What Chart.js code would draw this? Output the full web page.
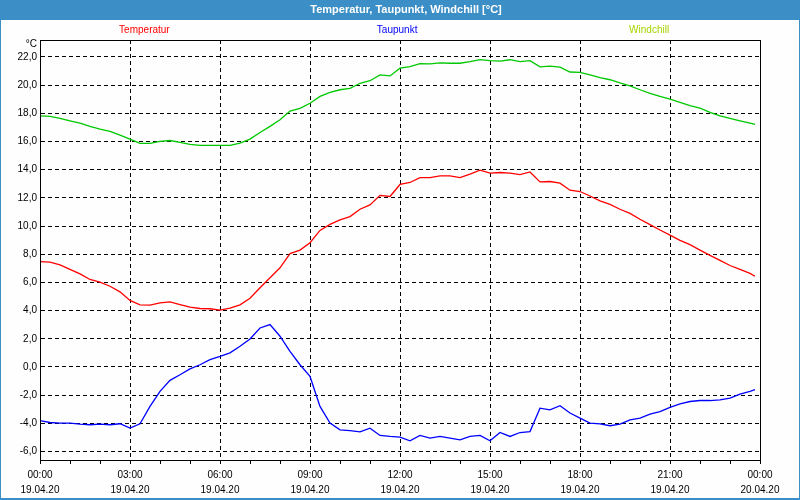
<!DOCTYPE html>
<html>
<head>
<meta charset="utf-8">
<title>Temperatur, Taupunkt, Windchill</title>
<script src="https://cdn.jsdelivr.net/npm/chart.js@4/dist/chart.umd.min.js"></script>
<style>
  html, body { margin: 0; padding: 0; background: #fff; }
  #chart { display: block; }
</style>
</head>
<body>
<canvas id="chart" width="800" height="500"></canvas>
<script>
'use strict';

/* ── DATA ── */
// minutes since 19.04.20 00:00
const minutes = [
  0, 20, 40, 60, 80, 100, 120, 140, 160, 180, 200, 220,
  240, 260, 280, 300, 320, 340, 360, 380, 400, 420, 440, 460,
  480, 500, 520, 540, 560, 580, 600, 620, 640, 660, 680, 700,
  720, 740, 760, 780, 800, 820, 840, 860, 880, 900, 920, 940,
  960, 980, 1000, 1020, 1040, 1060, 1080, 1100, 1120, 1140, 1160, 1180,
  1200, 1220, 1240, 1260, 1280, 1300, 1320, 1340, 1360, 1380, 1400, 1420,
  1430
];

const temperatur = [
  7.47, 7.44, 7.25, 6.92, 6.61, 6.21, 6.02, 5.73, 5.33, 4.72, 4.41, 4.39,
  4.55, 4.62, 4.43, 4.24, 4.15, 4.13, 4.03, 4.17, 4.41, 4.88, 5.62, 6.33,
  7.04, 8.04, 8.29, 8.82, 9.69, 10.12, 10.43, 10.67, 11.19, 11.50, 12.18, 12.10,
  12.95, 13.09, 13.44, 13.44, 13.56, 13.56, 13.44, 13.68, 13.96, 13.75, 13.80, 13.75,
  13.65, 13.84, 13.13, 13.16, 13.04, 12.54, 12.45, 12.13, 11.78, 11.54, 11.19, 10.90,
  10.48, 10.10, 9.72, 9.36, 8.98, 8.68, 8.29, 7.92, 7.56, 7.20, 6.92, 6.64,
  6.44
];

const taupunkt = [
  -3.80, -3.94, -3.98, -3.98, -4.05, -4.10, -4.05, -4.10, -4.03, -4.34, -4.03, -2.80,
  -1.73, -0.95, -0.55, -0.14, 0.16, 0.52, 0.75, 1.00, 1.47, 1.99, 2.77, 3.01,
  2.18, 1.11, 0.16, -0.67, -2.80, -3.98, -4.46, -4.51, -4.60, -4.34, -4.86, -4.93,
  -4.98, -5.24, -4.86, -5.05, -4.93, -5.05, -5.17, -4.93, -4.86, -5.24, -4.65, -4.93,
  -4.65, -4.58, -2.92, -3.04, -2.75, -3.27, -3.63, -3.98, -4.03, -4.17, -4.05, -3.75,
  -3.63, -3.34, -3.16, -2.87, -2.61, -2.45, -2.38, -2.38, -2.33, -2.21, -1.92, -1.73,
  -1.61
];

const windchill = [
  17.82, 17.78, 17.64, 17.47, 17.30, 17.07, 16.88, 16.71, 16.45, 16.17, 15.86, 15.86,
  16.00, 16.07, 15.93, 15.79, 15.72, 15.72, 15.72, 15.72, 15.88, 16.17, 16.64, 17.07,
  17.54, 18.16, 18.35, 18.71, 19.20, 19.49, 19.67, 19.77, 20.13, 20.31, 20.72, 20.65,
  21.20, 21.31, 21.52, 21.50, 21.57, 21.55, 21.55, 21.66, 21.81, 21.74, 21.70, 21.80,
  21.66, 21.74, 21.29, 21.34, 21.27, 20.93, 20.90, 20.72, 20.53, 20.38, 20.15, 19.94,
  19.67, 19.42, 19.20, 19.01, 18.78, 18.54, 18.37, 18.07, 17.82, 17.64, 17.47, 17.30,
  17.21
];

// tick labels
const yTicks = [-6, -4, -2, 0, 2, 4, 6, 8, 10, 12, 14, 16, 18, 20, 22];
const xTickTimes = ['00:00', '03:00', '06:00', '09:00', '12:00', '15:00', '18:00', '21:00', '00:00'];
const xTickDates = ['19.04.20', '19.04.20', '19.04.20', '19.04.20', '19.04.20', '19.04.20', '19.04.20', '19.04.20', '20.04.20'];

const seriesNames  = ['Temperatur', 'Taupunkt', 'Windchill'];
const lineColors   = ['#ff0000', '#0000ff', '#00c800'];
const legendColors = ['#ff0000', '#0000ff', '#a8d400'];

const TITLE = 'Temperatur, Taupunkt, Windchill [°C]';
const FONT = '"Liberation Sans", Arial, sans-serif';

function pts(values) {
  return values.map((v, i) => ({ x: minutes[i], y: v }));
}

/* ── FRAME / TITLE / LEGEND ── */
const framePlugin = {
  id: 'frame',
  beforeDraw(chart) {
    const c = chart.ctx;
    c.save();
    c.fillStyle = '#fdfefd';
    c.fillRect(0, 0, chart.width, chart.height);
    // title bar
    c.fillStyle = '#3c8fc6';
    c.fillRect(0, 0, chart.width, 20);
    c.fillStyle = '#ffffff';
    c.font = 'bold 11px ' + FONT;
    c.textAlign = 'center';
    c.textBaseline = 'middle';
    c.fillText(TITLE, 406, 10);
    // window border
    c.fillStyle = '#3c8fc6';
    c.fillRect(0, 0, 1, chart.height);
    c.fillRect(chart.width - 1, 0, 1, chart.height);
    c.fillRect(0, chart.height - 2, chart.width, 2);
    c.restore();
  },
  afterDraw(chart) {
    const c = chart.ctx;
    const a = chart.chartArea;
    c.save();
    c.strokeStyle = '#000';
    c.lineWidth = 1;
    c.setLineDash([]);
    c.strokeRect(Math.round(a.left) + 0.5, Math.round(a.top) + 0.5,
      Math.round(a.right - a.left), Math.round(a.bottom - a.top));

    c.font = '10px ' + FONT;
    c.fillStyle = '#000';
    c.textAlign = 'right';
    c.textBaseline = 'middle';
    c.fillText('°C', a.left - 3, a.top + 4);

    // legend texts spread over the top
    const w = a.right - a.left;
    const fr = [0.145, 0.496, 0.846];
    c.textAlign = 'center';
    seriesNames.forEach((name, i) => {
      c.fillStyle = legendColors[i];
      c.fillText(name, a.left + w * fr[i], 30);
    });
    c.restore();
  }
};

/* ── CHART ── */
new Chart(document.getElementById('chart'), {
  type: 'line',
  data: {
    datasets: seriesNames.map((name, i) => ({
      label: name,
      data: pts([temperatur, taupunkt, windchill][i]),
      borderColor: lineColors[i],
      borderWidth: 1.3,
      pointRadius: 0,
      tension: 0,
      fill: false
    }))
  },
  options: {
    responsive: false,
    animation: false,
    layout: { padding: { top: 40, right: 40, left: 0, bottom: 0 } },
    plugins: {
      legend: { display: false },
      title: { display: false },
      tooltip: { enabled: false }
    },
    scales: {
      x: {
        type: 'linear',
        min: 0,
        max: 1440,
        afterFit: s => { s.height = 40; },
        ticks: {
          stepSize: 60,
          autoSkip: false,
          maxRotation: 0,
          padding: 4,
          color: '#000',
          font: { family: FONT, size: 10, lineHeight: 1.5 },
          callback: v => {
            if (v % 180 !== 0) return '';
            const k = v / 180;
            return [xTickTimes[k], xTickDates[k]];
          }
        },
        grid: {
          color: ctx => (ctx.tick && ctx.tick.value % 180 === 0) ? '#000' : 'rgba(0,0,0,0)',
          lineWidth: 1,
          drawTicks: true,
          tickLength: 4,
          tickColor: '#000',
          tickBorderDash: []
        },
        border: { display: true, color: '#000', width: 1, dash: [4, 3] }
      },
      y: {
        min: -6.6,
        max: 23.2,
        afterFit: s => { s.width = 40; },
        afterBuildTicks: s => { s.ticks = yTicks.map(v => ({ value: v })); },
        ticks: {
          padding: 3,
          color: '#000',
          font: { family: FONT, size: 10 },
          callback: v => v.toFixed(1).replace('.', ',')
        },
        grid: {
          color: '#000',
          lineWidth: 1,
          drawTicks: false
        },
        border: { display: true, color: '#000', width: 1, dash: [4, 3] }
      }
    }
  },
  plugins: [framePlugin]
});
</script>
</body>
</html>
